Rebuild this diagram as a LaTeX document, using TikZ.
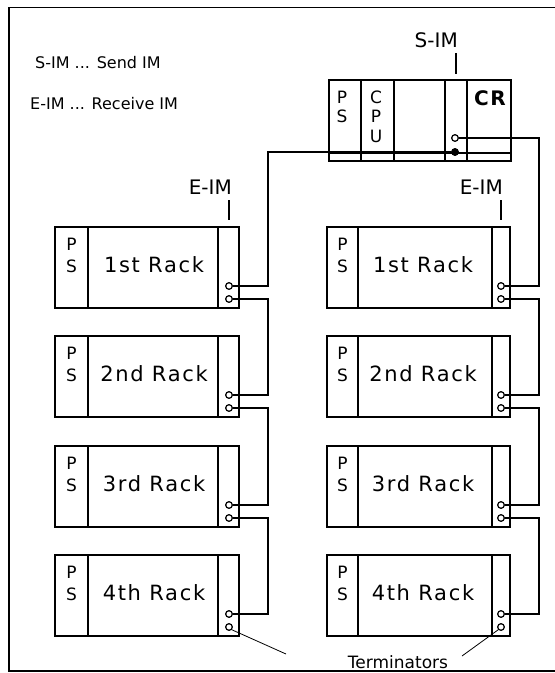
\documentclass[tikz,border=0pt]{standalone}
\usepackage{fontspec}
\setmainfont{DejaVu Sans}
\usetikzlibrary{calc}
\begin{document}
\begin{tikzpicture}[x=1pt,y=-1pt]
\tikzset{
 lbl/.style={inner sep=0pt, font=\fontsize{20}{24}\selectfont, anchor=base east},
 legend/.style={inner sep=0pt, font=\fontsize{16}{20}\selectfont, anchor=base west},
 ps/.style={inner sep=0pt, font=\fontsize{17}{20}\selectfont, anchor=base},
 racklbl/.style={inner sep=0pt, font=\fontsize{21}{24}\selectfont\addfontfeature{LetterSpace=8}, anchor=base},
 port/.style={circle, draw, line width=1.1pt, inner sep=0pt, minimum size=6.5pt, fill=white},
 wire/.style={line width=1.4pt},
 box/.style={line width=1.4pt},
 termline/.style={line width=0.8pt},
}
\useasboundingbox (0,0) rectangle (555,673);
% frame
\draw[line width=1.8pt] (560,7.5) -- (9,7.5) -- (9,671) -- (560,671);
% legend
\node[legend] (leg1) at (35,68) {S-IM ... Send IM};
\node[legend] (leg2) at (30,109) {E-IM ... Receive IM};
% S-IM box
\draw[box] (329,80) rectangle (511,161);
\draw[box] (361,80)--(361,161) (394,80)--(394,161) (445,80)--(445,161) (467,80)--(467,161) (329,153)--(511,153);
\node[ps] (sP) at (342,103) {P};
\node[ps] (sS) at (342,122) {S};
\node[ps] (cC) at (376,103) {C};
\node[ps] (cP) at (376,122) {P};
\node[ps] (cU) at (376,142) {U};
\node[inner sep=0pt, anchor=base, font=\fontsize{20}{24}\selectfont\bfseries\addfontfeature{LetterSpace=8}] (cr) at (490,105) {CR};
\node[lbl] (simlbl) at (458,47) {S-IM};
\draw[box] (456,53) -- (456,74);
% E-IM labels
\node[lbl] (eiml) at (232,194) {E-IM};
\draw[box] (229,200) -- (229,220);
\node[lbl] (eimr) at (503,194) {E-IM};
\draw[box] (501,200) -- (501,220);
% racks
\foreach \r/\yt/\txt in {1/227/1st Rack, 2/336/2nd Rack, 3/446/3rd Rack, 4/555/4th Rack} {
  \draw[box] (55,\yt) rectangle (239,\yt+81);
  \draw[box] (88,\yt) -- (88,\yt+81) (218,\yt) -- (218,\yt+81);
  \node[ps] (LP\r) at (71.5,\yt+23) {P};
  \node[ps] (LS\r) at (71.5,\yt+45) {S};
  \node[racklbl] (LT\r) at (154,\yt+45) {\txt};
  \draw[box] (327,\yt) rectangle (510,\yt+81);
  \draw[box] (358,\yt) -- (358,\yt+81) (492,\yt) -- (492,\yt+81);
  \node[ps] (RP\r) at (342.5,\yt+23) {P};
  \node[ps] (RS\r) at (342.5,\yt+45) {S};
  \node[racklbl] (RT\r) at (423,\yt+45) {\txt};
}
% ports
\path (455,138) node[port] (sa) {} (455,152) node[port, fill=black] (sb) {};
\foreach \r/\yt in {1/227,2/336,3/446,4/555} {
  \path (229,\yt+59) node[port] (La\r) {} (229,\yt+72) node[port] (Lb\r) {};
  \path (501,\yt+59) node[port] (Ra\r) {} (501,\yt+72) node[port] (Rb\r) {};
}
% wires
\coordinate (wl) at (268,0);
\coordinate (wr) at (539,0);
\draw[wire] (sb.west) -| (wl |- La1) -- (La1.east);
\draw[wire] (sa.east) -| (wr |- Ra1) -- (Ra1.east);
\foreach \i/\j in {1/2,2/3,3/4} {
  \draw[wire] (Lb\i.east) -| (wl |- La\j) -- (La\j.east);
  \draw[wire] (Rb\i.east) -| (wr |- Ra\j) -- (Ra\j.east);
}
% redraw ports on top
\path (455,138) node[port] {} (455,152) node[port, fill=black] {};
\foreach \r/\yt in {1/227,2/336,3/446,4/555} {
  \path (229,\yt+59) node[port] {} (229,\yt+72) node[port] {};
  \path (501,\yt+59) node[port] {} (501,\yt+72) node[port] {};
}
% terminators
\node[inner sep=0pt, anchor=base, font=\fontsize{17}{20}\selectfont] (term) at (398,668) {Terminators};
\coordinate (tl) at (286,654);
\coordinate (tr) at (462,656);
\draw[termline] (Lb4.south east) -- (tl);
\draw[termline] (Rb4.south west) -- (tr);
\end{tikzpicture}
\end{document}
